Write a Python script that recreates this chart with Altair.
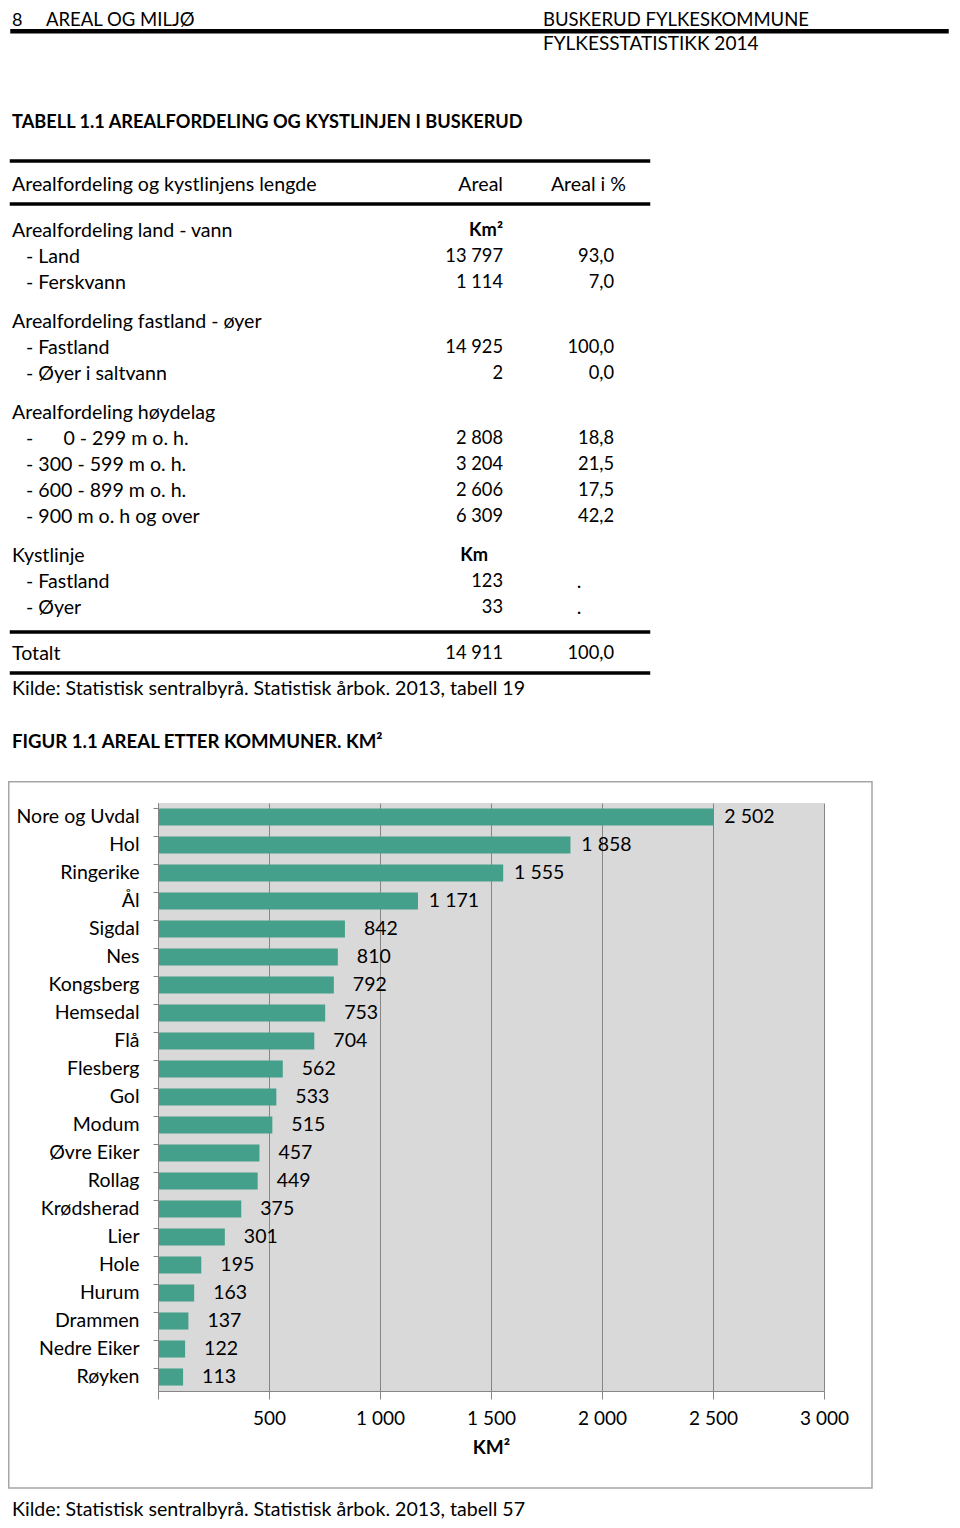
import altair as alt
import pandas as pd

FONT = "Lato"
FS = 19.6      # table text
FSN = 18.3     # table numbers

# ---------------- page header ----------------
page_number = "8"
page_section = "AREAL OG MILJØ"
org_name = "BUSKERUD FYLKESKOMMUNE"
pub_name = "FYLKESSTATISTIKK 2014"

# ---------------- table 1.1 ----------------
table_title = "TABELL 1.1 AREALFORDELING OG KYSTLINJEN I BUSKERUD"
col_headers = ["Arealfordeling og kystlinjens lengde", "Areal", "Areal i %"]
row_labels = [
    "Arealfordeling land - vann",
    "- Land",
    "- Ferskvann",
    "Arealfordeling fastland - øyer",
    "- Fastland",
    "- Øyer i saltvann",
    "Arealfordeling høydelag",
    "-\u00a0\u00a0\u00a0\u00a0\u00a0\u00a00 - 299 m o. h.",
    "- 300 - 599 m o. h.",
    "- 600 - 899 m o. h.",
    "- 900 m o. h og over",
    "Kystlinje",
    "- Fastland",
    "- Øyer",
    "Totalt",
]
row_kinds = ["head", "item", "item", "head", "item", "item", "head",
             "item", "item", "item", "item", "head", "item", "item", "total"]
row_units = ["Km²", "", "", "", "", "", "", "", "", "", "", "Km", "", "", ""]
areal_values = [None, 13797, 1114, None, 14925, 2, None, 2808, 3204, 2606, 6309,
                None, 123, 33, 14911]
pct_values = [None, 93.0, 7.0, None, 100.0, 0.0, None, 18.8, 21.5, 17.5, 42.2,
              None, None, None, 100.0]
pct_dot = [False] * 12 + [True, True, False]
table_source = "Kilde: Statistisk sentralbyrå. Statistisk årbok. 2013, tabell 19"

# ---------------- figure 1.1 ----------------
fig_title = "FIGUR 1.1 AREAL ETTER KOMMUNER. KM²"
kommuner = ["Nore og Uvdal", "Hol", "Ringerike", "Ål", "Sigdal", "Nes", "Kongsberg",
            "Hemsedal", "Flå", "Flesberg", "Gol", "Modum", "Øvre Eiker", "Rollag",
            "Krødsherad", "Lier", "Hole", "Hurum", "Drammen", "Nedre Eiker", "Røyken"]
kommune_areal = [2502, 1858, 1555, 1171, 842, 810, 792, 753, 704, 562, 533, 515,
                 457, 449, 375, 301, 195, 163, 137, 122, 113]
x_tick_values = [0, 500, 1000, 1500, 2000, 2500, 3000]
x_title = "KM²"
fig_source = "Kilde: Statistisk sentralbyrå. Statistisk årbok. 2013, tabell 57"


def no_int(v):
    return f"{int(v):,}".replace(",", " ")


def no_dec(v):
    return f"{v:.1f}".replace(".", ",")


# page coordinates -> top panel coordinates (panel origin sits at page x 158, y 8)
def PX(x):
    return x - 158


def PY(y):
    return y - 8


# line numbers from the table structure (section gaps)
lines = []
cur = 0.0
for i, k in enumerate(row_kinds):
    if i > 0:
        cur += 1 + (0.5 if k == "head" else 0.8 if k == "total" else 0.0)
    lines.append(cur)

table_df = pd.DataFrame({
    "label": row_labels,
    "kind": row_kinds,
    "line": lines,
    "unit": row_units,
    "areal_txt": [no_int(v) if v is not None else "" for v in areal_values],
    "pct_txt": [no_dec(v) if v is not None else ("." if d else "")
                for v, d in zip(pct_values, pct_dot)],
})

ty = alt.Y("line:Q", scale=alt.Scale(domain=[0, 1], range=[PY(230.5), PY(256.5)], nice=False,
                                     zero=False), axis=None)


def txt(**kw):
    base = dict(font=FONT, fontSize=FS, color="black", baseline="middle")
    base.update(kw)
    return base


tb = alt.Chart(table_df)
t_heads = tb.transform_filter("datum.kind != 'item'").mark_text(**txt(align="left")).encode(
    x=alt.value(PX(12)), y=ty, text="label:N")
t_items = tb.transform_filter("datum.kind == 'item'").mark_text(**txt(align="left")).encode(
    x=alt.value(PX(26)), y=ty, text="label:N")
t_areal = tb.transform_filter("datum.areal_txt != ''").mark_text(
    **txt(align="right", fontSize=FSN)).encode(x=alt.value(PX(503)), y=ty, text="areal_txt:N")
t_pct = tb.transform_filter("datum.pct_txt != '' && datum.pct_txt != '.'").mark_text(
    **txt(align="right", fontSize=FSN)).encode(x=alt.value(PX(614)), y=ty, text="pct_txt:N")
t_dot = tb.transform_filter("datum.pct_txt == '.'").mark_text(**txt(align="center")).encode(
    x=alt.value(PX(579)), y=ty, text="pct_txt:N")
t_unit1 = tb.transform_filter("datum.unit == 'Km²'").mark_text(
    **txt(align="right", fontWeight="bold", fontSize=FSN)).encode(
    x=alt.value(PX(503)), y=ty, text="unit:N")
t_unit2 = tb.transform_filter("datum.unit == 'Km'").mark_text(
    **txt(align="right", fontWeight="bold", fontSize=FSN)).encode(
    x=alt.value(PX(488)), y=ty, text="unit:N")


def label(text, x, y, **kw):
    return alt.Chart().mark_text(text=text, **txt(**kw)).encode(x=alt.value(x), y=alt.value(y))


def hrule(x1, x2, y, w):
    # stroke extents are kept inside the page area
    return alt.Chart().mark_rule(color="black", strokeWidth=w).encode(
        x=alt.value(x1 + w / 2), x2=alt.value(x2 - w / 2), y=alt.value(y))


HB = PY(26.2)  # baseline of the running header
top_parts = [
    label(page_number, PX(12), HB, align="left", fontSize=18, baseline="alphabetic"),
    label(page_section, PX(46), HB, align="left", fontSize=18.5, baseline="alphabetic"),
    label(org_name, PX(543), HB, align="left", fontSize=18.5, baseline="alphabetic"),
    hrule(PX(8), PX(951), PY(31.3), 4.5),
    label(pub_name, PX(543), PY(44), align="left", fontSize=19),
    label(table_title, PX(12), PY(122.5), align="left", fontWeight="bold", fontSize=18.2),
    hrule(PX(8), PX(652), PY(161), 3.5),
    label(col_headers[0], PX(12), PY(184.5), align="left"),
    label(col_headers[1], PX(503), PY(184.5), align="right"),
    label(col_headers[2], PX(626), PY(184.5), align="right"),
    hrule(PX(8), PX(652), PY(204), 3.5),
    hrule(PX(8), PX(652), PY(632), 3.5),
    hrule(PX(8), PX(652), PY(673), 3.5),
    label(table_source, PX(12), PY(688.5), align="left"),
    label(fig_title, PX(12), PY(741.5), align="left", fontWeight="bold", fontSize=18.6),
    t_heads, t_items, t_areal, t_pct, t_dot, t_unit1, t_unit2,
]
top = alt.layer(*top_parts).properties(width=PX(951), height=PY(781))

# ---------------- bar chart ----------------
AX = "#868686"
bar_df = pd.DataFrame({
    "kommune": kommuner,
    "km2": kommune_areal,
    "txt": [no_int(v) for v in kommune_areal],
})
xscale = alt.Scale(domain=[0, 3000], nice=False, zero=True)
yscale = alt.Scale(domain=kommuner, paddingInner=0.39, paddingOuter=0.195)

# bar panel origin sits at page (158, 803)
BY0 = 803

frame = alt.Chart().mark_rect(fillOpacity=0, stroke="#a6a6a6", strokeWidth=1.5).encode(
    x=alt.value(-149.25), x2=alt.value(872 - 158), y=alt.value(-21.25),
    y2=alt.value(1488 - BY0))
bars = alt.Chart(bar_df).mark_bar(color="#44a08a").encode(
    x=alt.X("km2:Q", scale=xscale, axis=alt.Axis(
        values=x_tick_values, grid=True, gridColor=AX, gridWidth=1,
        domainColor=AX, tickColor=AX, tickSize=8, labelFont=FONT, labelFontSize=19,
        labelColor="black", labelPadding=10, labelFlush=False,
        labelExpr="datum.value == 0 ? '' : replace(format(datum.value, ','), ',', ' ')",
        title=x_title, titleFont=FONT, titleFontSize=19, titleFontWeight="bold",
        titleColor="black", titlePadding=10)),
    y=alt.Y("kommune:N", scale=yscale, axis=alt.Axis(
        bandPosition=0, grid=False, domainColor=AX, tickColor=AX, tickSize=5,
        labelFont=FONT, labelFontSize=19.5, labelColor="black", labelPadding=14,
        title=None, zindex=1, labelLimit=300)),
)
vals = alt.Chart(bar_df).mark_text(**txt(align="center", fontSize=19.5, dx=36)).encode(
    x=alt.X("km2:Q", scale=xscale),
    y=alt.Y("kommune:N", scale=yscale),
    text="txt:N")
footer = label(fig_source, 12 - 158, 1516 - BY0, align="left", baseline="alphabetic")

bottom = alt.layer(frame, bars, vals, footer).properties(
    width=666, height=588, view=alt.ViewBackground(fill="#d9d9d9", stroke=None))

chart = alt.vconcat(top, bottom, spacing=0).properties(padding=0).configure_view(stroke=None)

chart.save("out.html", embed_options={"renderer": "svg", "actions": False})
